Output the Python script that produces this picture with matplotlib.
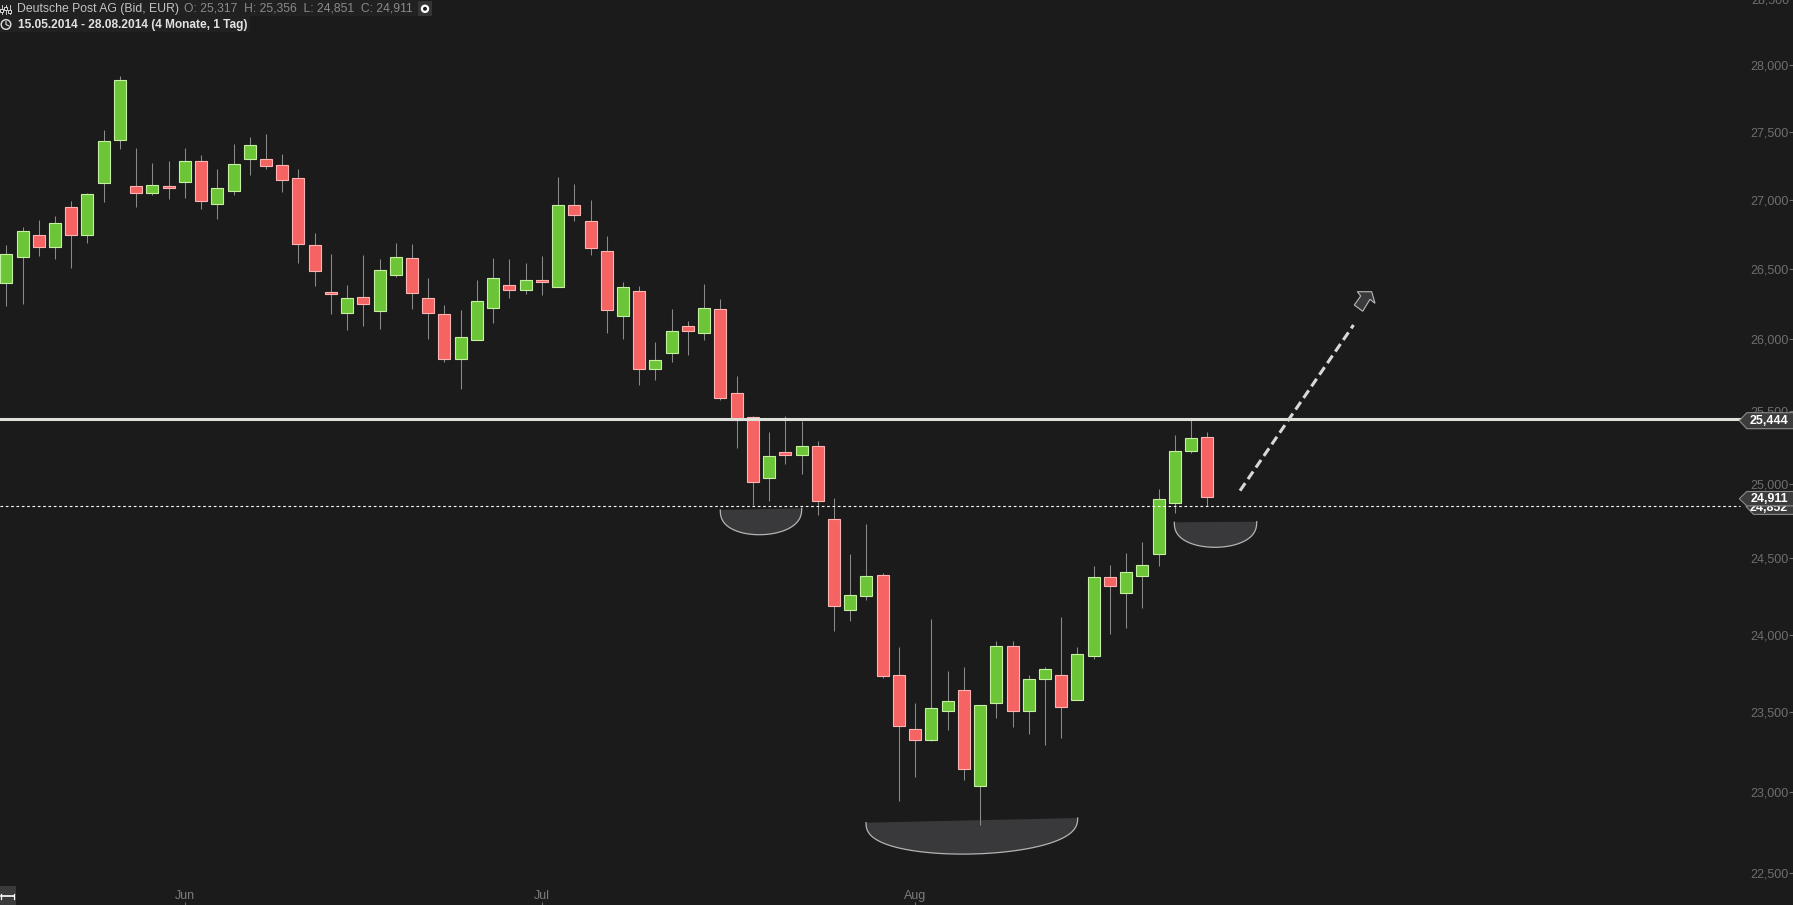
import numpy as np
import matplotlib
matplotlib.use("Agg")
import matplotlib.pyplot as plt
from matplotlib.patches import Polygon, Rectangle, Circle
from matplotlib.transforms import Affine2D
from matplotlib.ticker import FixedLocator, NullLocator

plt.rcParams['font.family'] = ['Liberation Sans', 'DejaVu Sans']

W, H = 1793, 905

# daily candles
opens = [26397,26585,26740,26658,26944,26745,27118,27441,27098,27051,27100,27132,27282,26964,27066,
         27301,27297,27252,27157,26668,26335,26182,26299,26196,26455,
         26573,26292,26174,25858,25995,26218,26385,26347,26421,26368,26959,26842,26624,26160,26342,
         25789,25899,26091,26045,26213,25619,25455,25040,25213,25197,25260,24761,24157,24254,24387,
         23736,23392,23327,23506,23645,23037,23558,23924,23506,23710,23736,23580,23864,24374,24274,
         24385,24529,24867,25224,25317]
closes = [26602,26769,26658,26828,26745,27040,27429,27889,27051,27105,27081,27282,26988,27083,27260,
          27400,27250,27140,26680,26483,26318,26292,26246,26493,26580,
          26325,26182,25858,26012,26270,26435,26347,26421,26404,26959,26884,26651,26203,26371,25789,
          25853,26055,26053,26220,25589,25433,25009,25186,25197,25260,24881,24183,24257,24380,23734,
          23413,23327,23528,23574,23144,23547,23924,23506,23710,23775,23532,23872,24374,24320,24413,
          24459,24896,25226,25314,24911]
highs = [26670,26799,26852,26881,26990,27047,27513,27917,27380,27272,27284,27380,27328,27225,27409,
         27461,27483,27338,27225,26755,26607,26380,26600,26570,26687,
         26677,26433,26238,26203,26416,26578,26568,26541,26590,27164,27115,26995,26735,26402,26373,
         25975,26215,26129,26388,26280,25738,25464,25354,25464,25426,25289,24905,24527,24730,24402,
         23920,23556,24102,23764,23790,23547,23959,23959,23740,23788,24117,23918,24450,24457,24538,
         24610,24962,25332,25437,25356]
lows = [26232,26249,26590,26570,26507,26682,26981,27370,26947,27034,27005,27010,26932,26859,27034,
        27179,27221,27056,26541,26376,26175,26060,26089,26072,26440,
        26208,25998,25839,25647,25995,26112,26292,26316,26313,26368,26842,26598,26043,26000,25677,
        25711,25835,25888,25993,25576,25242,24854,24881,25132,25067,24791,24024,24085,24224,23716,
        22940,23090,23315,23388,23071,22793,23463,23406,23363,23292,23335,23580,23842,24004,24041,
        24172,24450,24804,25209,24851]

ytick_vals = [22500,23000,23500,24000,24500,25000,25500,26000,26500,27000,27500,28000,28500]
ytick_labels = ['22,500','23,000','23,500','24,000','24,500','25,000','25,500','26,000','26,500',
                '27,000','27,500','28,000','28,500']
xtick_pos = [11, 33, 56]
xtick_labels = ['Jun', 'Jul', 'Aug']

level_main = 25444
level_thin = 24852
last_close = 24911

BG = '#1b1b1b'
GREY = '#6e6e6e'

fig = plt.figure(figsize=(W/100, H/100), dpi=100, facecolor=BG)
ax = fig.add_axes([0, 0, 1, 1], facecolor=BG)
# pixel coords of the reference, y going down, for the things drawn by hand on the chart
px = Affine2D().scale(1, -1).translate(0, H)

idx = np.arange(len(opens))
o = np.array(opens, float)
c = np.array(closes, float)
up = c >= o

ax.set_yscale('log')
ax.vlines(idx, lows, highs, color='#8a8a8a', lw=0.75, zorder=2)
ax.bar(idx[up], (c-o)[up], bottom=o[up], width=0.74, color='#6cc437', edgecolor='#c6f0a2', lw=0.8, zorder=3)
ax.bar(idx[~up], (o-c)[~up], bottom=c[~up], width=0.74, color='#f56363', edgecolor='#ffb4b4', lw=0.8, zorder=3)

ax.set_xlim(-0.388, 110.09)
ax.set_ylim(22305, 28499)

line_end = 1740/W
ax.plot([0, line_end], [level_main, level_main], transform=ax.get_yaxis_transform(), color='#e0e0da', lw=2.2, zorder=4)
ax.plot([0, line_end], [level_thin, level_thin], transform=ax.get_yaxis_transform(), color='white', lw=0.8,
        ls=(0, (2.4, 2.4)), zorder=4)

# axis
for s in ax.spines.values():
    s.set_visible(False)
ax.yaxis.tick_right()
ax.yaxis.set_major_locator(FixedLocator(ytick_vals[:-1]))
ax.yaxis.set_minor_locator(NullLocator())
ax.set_yticklabels(ytick_labels[:-1])
ax.set_xticks(xtick_pos)
ax.set_xticklabels(xtick_labels)
ax.tick_params(axis='y', direction='in', length=3, width=0.8, color=GREY, labelcolor=GREY, labelsize=9, pad=-3)
ax.tick_params(axis='x', direction='in', length=2, width=0.8, color=GREY, labelcolor='#7c7c7c', labelsize=9, pad=-10.5)
for t in ax.get_yticklabels():
    t.set_ha('right')
# top label sits just past the axis limit and is cut by the edge of the picture
ax.text(1789, 0.7, ytick_labels[-1], transform=px, ha='right', va='center', color=GREY, fontsize=9, clip_on=False)


def bowl(x0, y0, x1, y1, bottom):
    # half ellipse hanging under a flat top
    t = np.linspace(0, np.pi, 60)
    u = (1 - np.cos(t)) / 2
    xs = x0 + (x1 - x0) * u
    top = y0 + (y1 - y0) * u
    ys = top + (bottom - (y0 + y1) / 2) * np.sin(t) ** 0.8
    ax.add_patch(Polygon(np.c_[xs, ys], closed=True, fc='#39393b', ec='none', transform=px, zorder=1))
    ax.plot(xs, ys, color='#b4b4b4', lw=0.9, transform=px, zorder=1.5)


bowl(720.3, 510, 801.7, 508.3, 534.7)
bowl(1174.3, 522.3, 1256.7, 521.7, 547.3)
bowl(866, 822.7, 1077.7, 818, 854)

# dashed target arrow
ax.plot([1240, 1353.5], [490.7, 325], transform=px, color='#d8d8d4', lw=2.2, ls=(0, (3, 1.6)), zorder=4)
head = [(1357.3, 291.7), (1371.7, 291.7), (1375, 303.3), (1370, 299.3), (1362.7, 311.3), (1354.3, 305), (1360.7, 296)]
ax.add_patch(Polygon(head, closed=True, fc='#3a3a3c', ec='#b8b8b8', lw=0.8, transform=px, zorder=4))


def price_tag(yc, txt, z, tip=1739.3, half=8, text_dy=0):
    pts = [(1793, yc-half), (tip+7.5, yc-half), (tip, yc), (tip+7.5, yc+half), (1793, yc+half)]
    ax.add_patch(Polygon(pts, closed=False, fc='#3c3c3c', ec='#8c8c8c', lw=0.8, transform=px, zorder=z))
    ax.text(1788, yc+text_dy, txt, transform=px, ha='right', va='center', color='white', fontsize=9,
            fontweight='bold', zorder=z+0.1)


price_tag(420.7, f'{level_main:,}', 5)
price_tag(506.4, f'{level_thin:,}', 5, tip=1746, text_dy=1.6)
price_tag(498.7, f'{last_close:,}', 6, half=7.2)

# header
ax.add_patch(Rectangle((0, 0), 418, 15.5, fc='#212121', ec='none', transform=px, zorder=5))
ax.add_patch(Rectangle((0, 15.5), 250, 16, fc='#212121', ec='none', transform=px, zorder=5))
ax.text(17, 8.8, 'Deutsche Post AG (Bid, EUR)', transform=px, color='#c4c4c4', fontsize=8.8, va='center', zorder=6)
ax.text(184, 8.8, 'O: 25,317  H: 25,356  L: 24,851  C: 24,911', transform=px, color='#8a8a8a', fontsize=8.7,
        va='center', zorder=6)
ax.text(18, 24.6, '15.05.2014 - 28.08.2014 (4 Monate, 1 Tag)', transform=px, color='#e2e2e2', fontsize=8.6,
        fontweight='bold', va='center', zorder=6)

# sliders icon
for sx, sy in [(1.5, 9), (5.5, 7), (9.5, 10)]:
    ax.plot([sx, sx], [4.5, 13.5], transform=px, color='#c8c8c8', lw=0.7, zorder=6)
    ax.add_patch(Rectangle((sx-1.2, sy), 2.4, 3, fc=BG, ec='#d8d8d8', lw=0.7, transform=px, zorder=6.1))
# clock icon
ax.add_patch(Circle((6, 24.5), 4.8, fc='none', ec='#e0e0e0', lw=1, transform=px, zorder=6))
ax.plot([6, 6, 9], [21.5, 24.5, 26], transform=px, color='#e0e0e0', lw=0.8, zorder=6)
# small eye button
ax.add_patch(Rectangle((418, 1), 14, 15, fc='#353535', ec='none', transform=px, zorder=6))
ax.add_patch(Circle((425, 8.8), 3.1, fc='#1b1b1b', ec='white', lw=1.6, transform=px, zorder=6.1))
# zoom handle bottom left
ax.add_patch(Rectangle((0, 885.7), 16, 19.3, fc='#3a3a3a', ec='none', transform=px, zorder=6))
ax.plot([1, 13.5], [896, 896], transform=px, color='white', lw=1.2, zorder=6.1)
ax.plot([1, 1], [893.5, 898.5], transform=px, color='white', lw=0.9, zorder=6.1)
ax.plot([13.5, 13.5], [893.5, 898.5], transform=px, color='white', lw=0.9, zorder=6.1)

fig.savefig('out.png', dpi=100, facecolor=BG)
